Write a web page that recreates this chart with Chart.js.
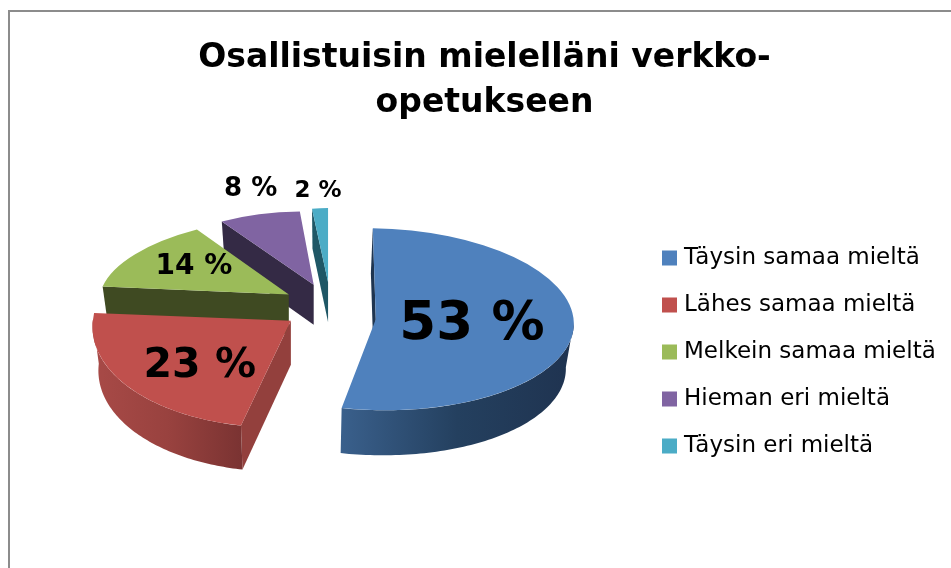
<!DOCTYPE html>
<html><head><meta charset="utf-8">
<style>
html,body{margin:0;padding:0;background:#fff;overflow:hidden}
#frame{position:absolute;left:8px;top:10px;width:943px;height:558px;box-sizing:border-box;border-left:2px solid #8c8c8c;border-top:2px solid #8c8c8c}
#c{position:absolute;left:0;top:0}
</style>
<script src="https://cdn.jsdelivr.net/npm/chart.js@4"></script>
</head><body>
<div id="frame"></div>
<canvas id="c" width="951" height="568"></canvas>
<script>
// ---- data ----
const titleLines = ["Osallistuisin mielelläni verkko-", "opetukseen"];
const categories = ["Täysin samaa mieltä", "Lähes samaa mieltä", "Melkein samaa mieltä", "Hieman eri mieltä", "Täysin eri mieltä"];
const values = [53, 23, 14, 8, 2];
const valueSuffix = " %";

// ---- style ----
const topColors = ["#4f81bd", "#c0504d", "#9bbb59", "#8064a2", "#4bacc6"];
const faceColors = ["#1f3550", "#93403d", "#3f4a22", "#342a45", "#1f5766"];
const wallStops = [["#3a608c", "#24405f", "#1f3350"], ["#a84a47", "#99423f", "#7a3332"], null, null, null];
const labelFonts = [53, 41, 28, 26, 23];
// view of each exploded slice: projection of the unit circle, height, nudge
const views = [
  {A:198, C:-3, B:-3, D:91,  depth:45, side:-2, nudge:[-2,11]},
  {A:198, C:13, B:-1, D:107, depth:44, side:0,  nudge:[-3,0]},
  {A:188, C:23, B:-3, D:78,  depth:40, side:0,  nudge:[-1,0]},
  {A:166, C:7,  B:-7, D:73,  depth:40, side:0,  nudge:[0,1]},
  {A:128, C:0,  B:0,  D:74,  depth:40, side:0,  nudge:[0,0]}
];
const labelSpots = [
  {f:.487, dx:0, dy:0}, {f:.56, dx:1, dy:9}, {f:.63, dx:2, dy:-2}, {f:1.3, dx:8, dy:-4}, {f:1.25, dx:0, dy:1}
];
const RADIUS = 200, EXPLODE = 47, CENTER = [331, 306], LIFT = .51, WALL_SHRINK = .97;
const FONT = '"DejaVu Sans"';

function geo(el, i) {
  const v = views[i], o = EXPLODE;
  const mid = (el.startAngle + el.endAngle) / 2;
  const ax = CENTER[0] + o * Math.cos(mid) + v.nudge[0];
  const ay = CENTER[1] + o * LIFT * Math.sin(mid) + v.nudge[1];
  const at = (t, f) => {                       // t = clockwise angle from 12 o'clock
    const s = Math.sin(t), c = Math.cos(t);
    return [ax + f * (v.A * s + v.C * c), ay - f * (v.B * s + v.D * c)];
  };
  return {v, mid, ax, ay, at, t0: el.startAngle + Math.PI / 2, t1: el.endAngle + Math.PI / 2};
}

const pie3d = {
  id: 'pie3d',
  afterLayout(chart) {
    chart.legend.left = 642.5;
    chart.legend.top = 222.5;
  },
  beforeDatasetsDraw(chart) {
    const ctx = chart.ctx, els = chart.getDatasetMeta(0).data;
    // side walls, far slices first
    [4, 3, 2, 0, 1].forEach(i => {
      const g = geo(els[i], i), v = g.v;
      const low = p => [g.ax + (p[0] - g.ax) * WALL_SHRINK + v.side, p[1] + v.depth];
      // straight cut face at the start edge
      const e = g.at(g.t0, 1), a = [g.ax, g.ay];
      const poly = pts => { ctx.beginPath(); pts.forEach((p, k) => k ? ctx.lineTo(p[0], p[1]) : ctx.moveTo(p[0], p[1])); ctx.closePath(); };
      ctx.fillStyle = faceColors[i];
      poly([a, e, low(e), low(a)]); ctx.fill();
      // curved outer wall on the near half
      const from = Math.max(g.t0, Math.PI / 2), to = Math.min(g.t1, Math.PI * 1.5);
      if (to > from) {
        const top = [], n = 80;
        for (let k = 0; k <= n; k++) top.push(g.at(from + (to - from) * k / n, 1));
        const pts = top.concat(top.map(low).reverse());
        const xs = pts.map(p => p[0]), x0 = Math.min(...xs), x1 = Math.max(...xs);
        const gr = ctx.createLinearGradient(x0, 0, x1, 0);
        wallStops[i].forEach((c, k) => gr.addColorStop(k / 2, c));
        ctx.fillStyle = gr;
        poly(pts); ctx.fill();
      }
      // top surface goes through the arc element with this slice's projection
      if (!Object.prototype.hasOwnProperty.call(els[i], 'draw')) {
        const el = els[i], base = Object.getPrototypeOf(el).draw;
        el.draw = function (c, area) {
          const q = geo(el, i), w = q.v, r = RADIUS;
          c.save();
          c.translate(q.ax, q.ay);
          c.transform(w.A / r, -w.B / r, -w.C / r, w.D / r, 0, 0);
          c.translate(-el.x, -el.y);
          base.call(el, c, area);
          c.restore();
        };
      }
    });
  },
  afterDatasetsDraw(chart) {
    const ctx = chart.ctx, els = chart.getDatasetMeta(0).data;
    ctx.save();
    ctx.fillStyle = '#000';
    ctx.textAlign = 'center';
    ctx.textBaseline = 'middle';
    els.forEach((el, i) => {
      const g = geo(el, i), sp = labelSpots[i];
      const p = g.at(g.mid + Math.PI / 2, sp.f);
      ctx.font = 'bold ' + labelFonts[i] + 'px ' + FONT;
      ctx.fillText(values[i] + valueSuffix, p[0] + sp.dx, p[1] + sp.dy);
    });
    ctx.restore();
  }
};

new Chart(document.getElementById('c'), {
  type: 'pie',
  data: {
    labels: categories,
    datasets: [{
      data: values,
      backgroundColor: topColors,
      borderWidth: 0,
      radius: RADIUS,
      clip: false
    }]
  },
  plugins: [pie3d],
  options: {
    responsive: false,
    animation: false,
    events: [],
    layout: {padding: {left: 18, top: 26, right: 0, bottom: 0}},
    plugins: {
      tooltip: {enabled: false},
      title: {
        display: true,
        text: titleLines,
        color: '#000',
        font: {family: FONT, size: 33, weight: 'bold', lineHeight: 1.36},
        padding: {top: 10, bottom: 10}
      },
      legend: {
        position: 'right',
        align: 'start',
        labels: {
          color: '#000',
          font: {family: FONT, size: 23},
          boxWidth: 6,
          boxHeight: 6,
          padding: 24,
          generateLabels: () => categories.map((t, i) => ({
            text: t, fillStyle: topColors[i], strokeStyle: topColors[i], lineWidth: 9, hidden: false, index: i
          }))
        }
      }
    }
  }
});
</script>
</body></html>
